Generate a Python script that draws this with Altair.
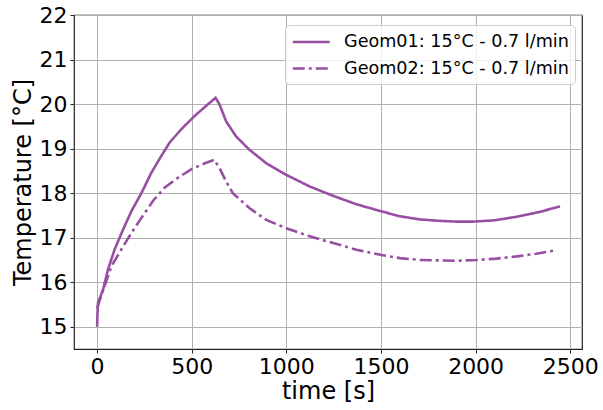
import altair as alt
import pandas as pd

# Geom01 (solid)
t1 = [0, 2, 5, 32, 58, 93, 138, 182, 235, 287, 340, 384, 446, 517, 587, 626,
      647, 682, 735, 806, 894, 1000, 1123, 1247, 1370, 1503, 1600, 1705, 1800, 1900, 1987,
      2100, 2217, 2330, 2446]
T1 = [15.0, 15.3, 15.54, 15.84, 16.29, 16.74, 17.19, 17.60, 18.01, 18.46, 18.84, 19.14, 19.44, 19.74, 20.0, 20.14,
      19.99, 19.61, 19.27, 18.97, 18.67, 18.41, 18.15, 17.94, 17.75, 17.59, 17.48, 17.41, 17.38, 17.36, 17.36,
      17.39, 17.47, 17.57, 17.70]

# Geom02 (dash-dot)
t2 = [0, 49, 76, 129, 182, 235, 296, 358, 429, 499, 570, 619,
      647, 682, 717, 806, 894, 1000, 1123, 1247, 1370, 1503, 1600, 1705, 1800, 1900, 2005,
      2110, 2217, 2320, 2414]
T2 = [15.42, 16.03, 16.36, 16.74, 17.11, 17.45, 17.83, 18.13, 18.35, 18.54, 18.67, 18.75,
      18.56, 18.26, 18.0, 17.66, 17.40, 17.21, 17.03, 16.88, 16.73, 16.61, 16.54, 16.50, 16.49, 16.48, 16.50,
      16.53, 16.58, 16.64, 16.71]

labels = ["Geom01: 15°C - 0.7 l/min", "Geom02: 15°C - 0.7 l/min"]
x_ticks = [0, 500, 1000, 1500, 2000, 2500]
y_ticks = [15, 16, 17, 18, 19, 20, 21, 22]

rows = []
for i, (t, v) in enumerate(zip(t1, T1)):
    rows.append({"time": t, "temp": v, "series": labels[0], "order": i})
for i, (t, v) in enumerate(zip(t2, T2)):
    rows.append({"time": t, "temp": v, "series": labels[1], "order": i})
df = pd.DataFrame(rows)

FONT = "DejaVu Sans"
PURPLE = "#984ea3"

chart = alt.Chart(df).mark_line(color=PURPLE, strokeWidth=2.6).encode(
    x=alt.X("time:Q", title="time [s]",
            scale=alt.Scale(domain=[-122, 2562], nice=False, zero=False),
            axis=alt.Axis(values=x_ticks, format="d")),
    y=alt.Y("temp:Q", title="Temperature [°C]",
            scale=alt.Scale(domain=[14.5, 22], nice=False, zero=False),
            axis=alt.Axis(values=y_ticks, format="d")),
    strokeDash=alt.StrokeDash("series:N", title=None,
                              scale=alt.Scale(domain=labels, range=[[1, 0], [12, 4, 3, 4]]),
                              legend=alt.Legend(orient="none", legendX=211, legendY=10,
                                                symbolType="M-1,0L3,0", symbolSize=342,
                                                symbolStrokeWidth=2.6, symbolStrokeColor=PURPLE,
                                                labelFontSize=17.6, labelFont=FONT, labelColor="black",
                                                labelOffset=31, padding=6, rowPadding=6.5,
                                                fillColor="rgba(255,255,255,0.8)", strokeColor="#cccccc",
                                                cornerRadius=4, labelLimit=400)),
    order="order:Q",
).properties(
    width=508, height=334,
    autosize=alt.AutoSizeParams(type="none"),
    padding={"left": 74, "top": 15, "right": 21, "bottom": 61},
).configure_view(
    stroke="#222222", strokeWidth=1.2
).configure_axis(
    domain=False,
    grid=True, gridColor="#b0b0b0", gridWidth=1,
    ticks=True, tickColor="#222222", tickSize=4, tickWidth=1,
    labelFont=FONT, labelFontSize=22, labelColor="black", labelPadding=3,
    titleFont=FONT, titleFontSize=24, titleFontWeight="normal", titleColor="black",
).configure_axisX(titlePadding=2).configure_axisY(titlePadding=4)

chart.save("out.html", embed_options={"renderer": "svg", "actions": False})
